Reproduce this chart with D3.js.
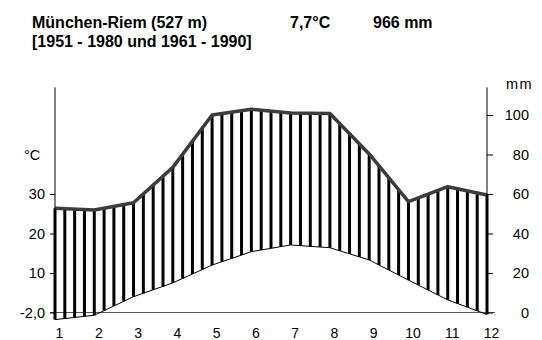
<!DOCTYPE html>
<html>
<head>
<meta charset="utf-8">
<script src="https://cdn.jsdelivr.net/npm/d3@7"></script>
<style>
  body { margin: 0; background: #fff; }
  text { font-family: "Liberation Sans", Arial, sans-serif; fill: #000; }
</style>
</head>
<body>
<div id="chart"></div>
<script>
// Climate data for München-Riem
var months = [1, 2, 3, 4, 5, 6, 7, 8, 9, 10, 11, 12];
var temperature = [-1.8, -0.7, 4.0, 7.5, 12.0, 15.4, 17.1, 16.4, 13.3, 8.2, 3.2, -0.5];
var precipitation = [52.8, 51.9, 55.6, 73.5, 100.0, 102.9, 101.0, 100.8, 80.3, 56.1, 63.7, 59.5];
var tempTicks = [0, 10, 20, 30];
var tempTickLabels = ["-2,0", "10", "20", "30"];
var precTicks = [0, 20, 40, 60, 80, 100];

var svgWidth = 542;
var svgHeight = 340;

var svg = d3.select("#chart")
  .append("svg")
  .attr("width", svgWidth)
  .attr("height", svgHeight);

// scales: 10 °C = 20 mm
var x = d3.scaleLinear().domain([1, 12]).range([55, 487]);
var yP = d3.scaleLinear().domain([0, 100]).range([312.5, 115]);
var yT = d3.scaleLinear().domain([0, 50]).range([312.5, 115]);
var topY = yP(114);

// title
svg.append("text").attr("x", 32).attr("y", 28)
  .style("font-size", "16px").style("font-weight", "bold")
  .text("München-Riem (527 m)");
svg.append("text").attr("x", 290).attr("y", 28)
  .style("font-size", "16px").style("font-weight", "bold")
  .text("7,7°C");
svg.append("text").attr("x", 373).attr("y", 28)
  .style("font-size", "16px").style("font-weight", "bold")
  .text("966 mm");
svg.append("text").attr("x", 32).attr("y", 47)
  .style("font-size", "16px").style("font-weight", "bold")
  .text("[1951 - 1980 und 1961 - 1990]");

// baseline
svg.append("line")
  .attr("x1", 50).attr("x2", 495)
  .attr("y1", yP(0)).attr("y2", yP(0))
  .attr("stroke", "#555").attr("stroke-width", 1);

// hatching for the humid part
function interp(arr, v) {
  var i = Math.min(Math.floor(v) - 1, 10);
  var f = v - 1 - i;
  return arr[i] + (arr[i + 1] - arr[i]) * f;
}
var hatch = d3.range(0, 45).map(function (i) {
  var v = 1 + i / 4;
  return { m: v, p: interp(precipitation, v), t: interp(temperature, v) };
});
svg.selectAll(".hatch")
  .data(hatch.filter(d => d.p > d.t * 2))
  .enter()
  .append("line")
  .attr("class", "hatch")
  .attr("x1", d => x(d.m)).attr("x2", d => x(d.m))
  .attr("y1", d => yP(d.p)).attr("y2", d => yT(d.t))
  .attr("stroke", "#000").attr("stroke-width", 3);

// temperature curve
svg.append("path")
  .datum(months)
  .attr("fill", "none")
  .attr("stroke", "#000")
  .attr("stroke-width", 1)
  .attr("d", d3.line().x(d => x(d)).y((d, i) => yT(temperature[i])));

// precipitation curve
svg.append("path")
  .datum(months)
  .attr("fill", "none")
  .attr("stroke", "#3c3c3c")
  .attr("stroke-width", 3.5)
  .attr("stroke-linejoin", "round")
  .attr("d", d3.line().x(d => x(d)).y((d, i) => yP(precipitation[i])));

// left axis (°C)
var leftAxis = d3.axisLeft(yT)
  .tickValues(tempTicks)
  .tickFormat((d, i) => tempTickLabels[i])
  .tickSize(5)
  .tickPadding(5);
var gl = svg.append("g").attr("transform", "translate(55,0)").call(leftAxis);
gl.select(".domain").remove();
gl.selectAll("text").style("font-size", "14.5px").style("font-family", null);
gl.append("line").attr("x1", 0).attr("x2", 0)
  .attr("y1", topY).attr("y2", yP(0)).attr("stroke", "#000");

// right axis (mm)
var rightAxis = d3.axisRight(yP)
  .tickValues(precTicks)
  .tickSize(6)
  .tickPadding(6);
var gr = svg.append("g").attr("transform", "translate(487,0)").call(rightAxis);
gr.select(".domain").remove();
gr.selectAll("text").style("font-size", "14.5px").style("font-family", null)
  .attr("text-anchor", "end").attr("x", 42);
gr.append("line").attr("x1", 0).attr("x2", 0)
  .attr("y1", topY).attr("y2", yP(0)).attr("stroke", "#000");

// month labels
var bottomAxis = d3.axisBottom(x).tickValues(months).tickSize(0).tickFormat(d3.format("d"));
var gb = svg.append("g").attr("transform", "translate(4," + yP(0) + ")").call(bottomAxis);
gb.select(".domain").remove();
gb.selectAll("text").style("font-size", "14px").style("font-family", null)
  .attr("dy", null).attr("y", 25.5);

// unit labels
svg.append("text").attr("x", 24).attr("y", 160)
  .style("font-size", "14.5px").text("°C");
svg.append("text").attr("x", 506).attr("y", 89)
  .style("font-size", "14.5px").style("letter-spacing", "1.5px").text("mm");
</script>
</body>
</html>
